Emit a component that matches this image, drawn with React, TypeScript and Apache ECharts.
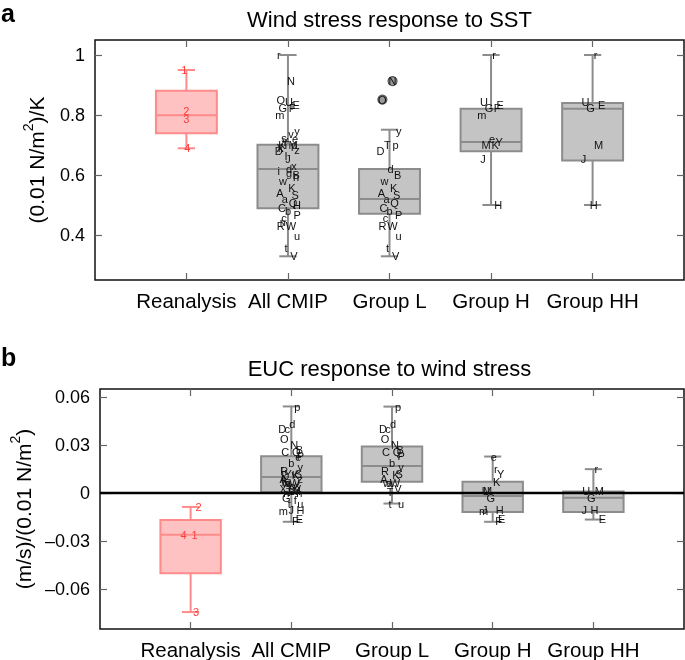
import React, { useEffect, useRef } from 'react';
import * as echarts from 'echarts';

// ---------------- data ----------------
const categories = ['Reanalysis', 'All CMIP', 'Group L', 'Group H', 'Group HH'];

// box statistics [min, q1, median, q3, max]
const statsA = [
  [0.689, 0.739, 0.799, 0.881, 0.95],
  [0.329, 0.489, 0.62, 0.701, 1.0],
  [0.329, 0.471, 0.52, 0.62, 0.751],
  [0.5, 0.679, 0.71, 0.821, 1.0],
  [0.5, 0.648, 0.821, 0.84, 1.0],
];
const statsB = [
  [-0.0744, -0.0502, -0.0261, -0.0168, -0.0087],
  [-0.018, 0.0005, 0.01, 0.023, 0.0541],
  [-0.0066, 0.0071, 0.0168, 0.029, 0.054],
  [-0.018, -0.0118, -0.0019, 0.0071, 0.0228],
  [-0.0166, -0.0118, -0.0029, 0.0009, 0.0149],
];

const reanalysisNames = ['1', '2', '3', '4'];
const reanalysisA = [0.95, 0.812, 0.788, 0.69];
const reanalysisB = [-0.026, -0.0087, -0.0744, -0.026];

const groupLNames = ['N', 'O', 'y', 'T', 'p', 'D', 'd', 'B', 'w', 'K', 'A', 'S', 'a', 'Q', 'C', 'b', 'P', 'c', 'W', 'R', 'u', 't', 'V'];
const groupLA = [0.913, 0.851, 0.748, 0.7, 0.7, 0.679, 0.62, 0.601, 0.579, 0.557, 0.54, 0.535, 0.52, 0.507, 0.49, 0.479, 0.468, 0.458, 0.429, 0.429, 0.398, 0.357, 0.329];
const groupLB = [0.0297, 0.034, 0.0162, 0.0008, 0.0538, 0.04, 0.0434, 0.027, 0.006, 0.011, 0.009, 0.0116, 0.0065, 0.0258, 0.0255, 0.019, 0.023, 0.04, 0.0065, 0.014, -0.0066, -0.0066, 0.0023];

const groupHNames = ['r', 'U', 'E', 'G', 'F', 'm', 'e', 'Y', 'M', 'K', 'J', 'H'];
const groupHA = [1.0, 0.845, 0.835, 0.822, 0.825, 0.8, 0.72, 0.71, 0.7, 0.7, 0.652, 0.5];
const groupHB = [0.0148, 0.0012, -0.0162, -0.0029, -0.0175, -0.0112, 0.0227, 0.0116, 0.0012, 0.0069, -0.0106, -0.0106];

const groupHHNames = ['r', 'U', 'E', 'G', 'M', 'J', 'H'];

const otherNames = ['s', 'v', 'k', 'z', 'I', 'x', 'i', 'g', 'h', 'n', 'f', 'X'];
const otherA = [0.725, 0.738, 0.69, 0.685, 0.665, 0.629, 0.612, 0.608, 0.595, 0.445, 0.83, 0.69];
const otherB = [0.0075, 0.012, 0.0105, 0.0085, 0.0035, 0.005, 0.009, 0.0045, 0.0, 0.0, -0.0045, 0.0025];

const ticksA = [0.4, 0.6, 0.8, 1.0];
const ticksB = [-0.06, -0.03, 0, 0.03, 0.06];

// ---------------- style ----------------
const FONT = '"Liberation Sans", Arial, Helvetica, sans-serif';
const X_MIN = -0.9;
const X_MAX = 4.9;
const BOX_W = 0.6;
const CAP_W = 0.17;
const RE_FILL = '#ffc2c2';
const RE_STROKE = '#ff8a8a';
const RE_TEXT = '#ff3c3c';
const GR_FILL = '#c4c4c4';
const GR_STROKE = '#8c8c8c';
const JITTER = [0.03, -0.07, 0.09, -0.02, 0.06, -0.09, 0.01, 0.08, -0.05, 0.04, -0.08, 0.07, -0.03, 0.05, -0.06, 0.0, 0.09, -0.04];
const RE_JITTER_A = [-0.02, 0.0, 0.0, 0.01];
const RE_JITTER_B = [0.04, 0.08, 0.055, -0.07];

const hhA = groupHHNames.map((n) => groupHA[groupHNames.indexOf(n)]);
const hhB = groupHHNames.map((n) => groupHB[groupHNames.indexOf(n)]);
const allNames = [...groupLNames, ...groupHNames, ...otherNames];
const allA = [...groupLA, ...groupHA, ...otherA];
const allB = [...groupLB, ...groupHB, ...otherB];

function boxSeries(g: number, stats: number[][]) {
  return {
    type: 'custom',
    xAxisIndex: g * 2,
    yAxisIndex: g * 2,
    silent: true,
    clip: false,
    z: 2,
    data: stats.map((s, i) => [i, ...s]),
    encode: { x: 0, y: [1, 2, 3, 4, 5] },
    renderItem: (params: any, api: any) => {
      const cat = api.value(0);
      const mn = api.value(1), q1 = api.value(2), md = api.value(3), q3 = api.value(4), mx = api.value(5);
      const isRe = cat === 0;
      const stroke = isRe ? RE_STROKE : GR_STROKE;
      const fill = isRe ? RE_FILL : GR_FILL;
      const half = api.size([BOX_W, 0])[0] / 2;
      const capHalf = api.size([CAP_W, 0])[0] / 2;
      const pMin = api.coord([cat, mn]);
      const pQ1 = api.coord([cat, q1]);
      const pMd = api.coord([cat, md]);
      const pQ3 = api.coord([cat, q3]);
      const pMax = api.coord([cat, mx]);
      const xc = pMin[0];
      const ls = { stroke, lineWidth: 2 };
      return {
        type: 'group',
        children: [
          { type: 'line', shape: { x1: xc, y1: pMax[1], x2: xc, y2: pMin[1] }, style: ls },
          { type: 'line', shape: { x1: xc - capHalf, y1: pMax[1], x2: xc + capHalf, y2: pMax[1] }, style: ls },
          { type: 'line', shape: { x1: xc - capHalf, y1: pMin[1], x2: xc + capHalf, y2: pMin[1] }, style: ls },
          {
            type: 'rect',
            shape: { x: xc - half, y: pQ3[1], width: 2 * half, height: pQ1[1] - pQ3[1] },
            style: { fill, stroke, lineWidth: 2 },
          },
          { type: 'line', shape: { x1: xc - half, y1: pMd[1], x2: xc + half, y2: pMd[1] }, style: ls },
        ],
      };
    },
  };
}

function labelSeries(g: number, cat: number, names: string[], values: number[], stats: number[], color: string, jitter: number[]) {
  return {
    type: 'custom',
    xAxisIndex: g * 2,
    yAxisIndex: g * 2,
    silent: true,
    clip: false,
    z: 5,
    data: values.map((v) => [cat, v]),
    encode: { x: 0, y: 1 },
    renderItem: (params: any, api: any) => {
      const i = params.dataIndex;
      const v = api.value(1);
      const p = api.coord([api.value(0) + jitter[i % jitter.length], v]);
      const outlier = v > stats[4] + 1e-6 || v < stats[0] - 1e-6;
      const children: any[] = [];
      if (outlier) {
        children.push({
          type: 'circle',
          shape: { cx: p[0], cy: p[1], r: 4.5 },
          style: { fill: '#9a9a9a', stroke: '#555', lineWidth: 1.2 },
        });
      }
      children.push({
        type: 'text',
        x: p[0],
        y: p[1],
        style: {
          text: names[i],
          fill: color,
          fontSize: 11,
          fontFamily: FONT,
          textAlign: 'center',
          textVerticalAlign: 'middle',
          align: 'center',
          verticalAlign: 'middle',
        },
      });
      return { type: 'group', children };
    },
  };
}

function zeroLine(g: number) {
  return {
    type: 'custom',
    xAxisIndex: g * 2,
    yAxisIndex: g * 2,
    silent: true,
    clip: false,
    z: 3,
    data: [[0, 0]],
    encode: { x: 0, y: 1 },
    renderItem: (params: any, api: any) => {
      const a = api.coord([X_MIN, 0]);
      const b = api.coord([X_MAX, 0]);
      return { type: 'line', shape: { x1: a[0], y1: a[1], x2: b[0], y2: b[1] }, style: { stroke: '#000', lineWidth: 2.5 } };
    },
  };
}

const catTicks = categories.map((_, i) => i);

function xAxes(g: number) {
  const base = {
    type: 'value',
    gridIndex: g,
    min: X_MIN,
    max: X_MAX,
    splitLine: { show: false },
    axisLine: { show: false, onZero: false },
    axisTick: { show: true, inside: true, length: 7, customValues: catTicks, lineStyle: { color: '#666', width: 1.2 } },
  };
  return [
    {
      ...base,
      position: 'bottom',
      axisLabel: {
        show: true,
        customValues: catTicks,
        formatter: (v: number) => categories[Math.round(v)],
        fontSize: 20.5,
        color: '#000',
        fontFamily: FONT,
        margin: 10,
      },
    },
    { ...base, position: 'top', axisLabel: { show: false } },
  ];
}

function yAxes(g: number, min: number, max: number, ticks: number[], fmt: (v: number) => string, name: string, nameGap: number) {
  const base = {
    type: 'value',
    gridIndex: g,
    min,
    max,
    splitLine: { show: false },
    axisLine: { show: false, onZero: false },
    axisTick: { show: true, inside: true, length: 7, customValues: ticks, lineStyle: { color: '#666', width: 1.2 } },
  };
  return [
    {
      ...base,
      position: 'left',
      name,
      nameLocation: 'middle',
      nameGap,
      nameTextStyle: {
        fontSize: 21,
        color: '#000',
        fontFamily: FONT,
        rich: {
          n: { fontSize: 21, lineHeight: 26, verticalAlign: 'bottom', fontFamily: FONT, color: '#000' },
          s: { fontSize: 14, lineHeight: 26, verticalAlign: 'top', fontFamily: FONT, color: '#000' },
        },
      },
      axisLabel: { show: true, customValues: ticks, formatter: fmt, fontSize: 18, color: '#000', fontFamily: FONT, margin: 10 },
    },
    { ...base, position: 'right', axisLabel: { show: false } },
  ];
}

const fmtA = (v: number) => String(Math.round(v * 10) / 10);
const fmtB = (v: number) => (Math.abs(v) < 1e-9 ? '0' : (v < 0 ? '\u2013' : '') + Math.abs(v).toFixed(2));

export default function App() {
  const ref = useRef<HTMLDivElement>(null);
  useEffect(() => {
    if (!ref.current) return;
    const chart = echarts.init(ref.current, undefined, { renderer: 'svg' });
    const series: any[] = [
      boxSeries(0, statsA),
      labelSeries(0, 0, reanalysisNames, reanalysisA, statsA[0], RE_TEXT, RE_JITTER_A),
      labelSeries(0, 1, allNames, allA, statsA[1], '#111', JITTER),
      labelSeries(0, 2, groupLNames, groupLA, statsA[2], '#111', JITTER),
      labelSeries(0, 3, groupHNames, groupHA, statsA[3], '#111', JITTER),
      labelSeries(0, 4, groupHHNames, hhA, statsA[4], '#111', JITTER),
      boxSeries(1, statsB),
      zeroLine(1),
      labelSeries(1, 0, reanalysisNames, reanalysisB, statsB[0], RE_TEXT, RE_JITTER_B),
      labelSeries(1, 1, allNames, allB, statsB[1], '#111', JITTER),
      labelSeries(1, 2, groupLNames, groupLB, statsB[2], '#111', JITTER),
      labelSeries(1, 3, groupHNames, groupHB, statsB[3], '#111', JITTER),
      labelSeries(1, 4, groupHHNames, hhB, statsB[4], '#111', JITTER),
    ];
    chart.setOption({
      animation: false,
      textStyle: { fontFamily: FONT },
      grid: [
        { left: 95, top: 40, width: 589, height: 240, show: true, borderColor: '#111', borderWidth: 1.5, backgroundColor: 'transparent', containLabel: false },
        { left: 95, top: 389, width: 589, height: 241, show: true, borderColor: '#111', borderWidth: 1.5, backgroundColor: 'transparent', containLabel: false },
      ],
      xAxis: [...xAxes(0), ...xAxes(1)],
      yAxis: [
        ...yAxes(0, 0.25, 1.05, ticksA, fmtA, '{n|(0.01 N/m}{s|2}{n|)/K}', 48),
        ...yAxes(1, -0.085, 0.065, ticksB, fmtB, '{n|(m/s)/(0.01 N/m}{s|2}{n|)}', 66),
      ],
      graphic: [
        { type: 'text', x: 389.5, y: 19.5, style: { text: 'Wind stress response to SST', fontSize: 22, fontFamily: FONT, fill: '#000', textAlign: 'center', textVerticalAlign: 'middle' } },
        { type: 'text', x: 389.5, y: 368, style: { text: 'EUC response to wind stress', fontSize: 22, fontFamily: FONT, fill: '#000', textAlign: 'center', textVerticalAlign: 'middle' } },
        { type: 'text', x: 1, y: 12.5, style: { text: 'a', fontSize: 25, fontWeight: 'bold', fontFamily: FONT, fill: '#000', textAlign: 'left', textVerticalAlign: 'middle' } },
        { type: 'text', x: 1, y: 357, style: { text: 'b', fontSize: 25, fontWeight: 'bold', fontFamily: FONT, fill: '#000', textAlign: 'left', textVerticalAlign: 'middle' } },
      ],
      series,
    });
    return () => chart.dispose();
  }, []);
  return <div ref={ref} style={{ position: 'fixed', left: 0, top: 0, width: 685, height: 660 }} />;
}
